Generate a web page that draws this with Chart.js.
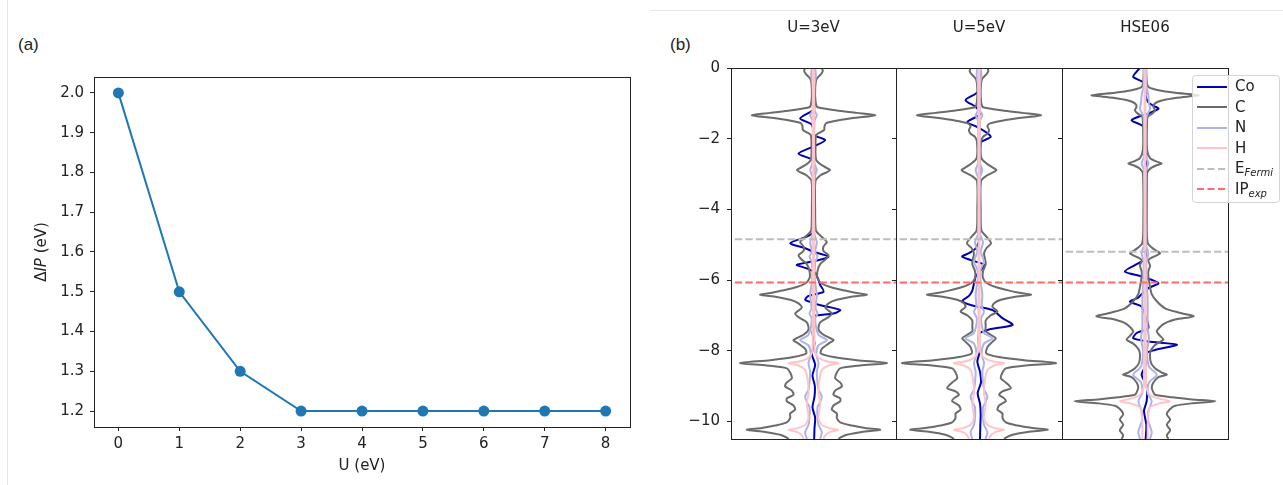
<!DOCTYPE html>
<html>
<head>
<meta charset="utf-8">
<script src="https://cdn.jsdelivr.net/npm/chart.js@4/dist/chart.umd.min.js"></script>
<style>
body { margin:0; background:#fff; }
#wrap { position:relative; width:1283px; height:485px; overflow:hidden; font-family:'DejaVu Sans'; }
canvas { position:absolute; top:0; }
.tag { position:absolute; font-family:'Liberation Sans', sans-serif; font-size:17px; color:#222; }
.rule { position:absolute; background:#e6e6e6; }
#legend { position:absolute; left:1192px; top:75px; width:88px; height:128px; box-sizing:border-box;
  border:1px solid #d5d5d5; border-radius:4px; background:rgba(255,255,255,0.8); padding-top:0px; z-index:5; }
.row { height:20.6px; line-height:20.6px; font-size:15px; color:#222; white-space:nowrap; }
.row svg { vertical-align:middle; margin-left:4px; margin-right:8px; }
.row sub { font-size:10px; font-style:italic; vertical-align:-3px; line-height:0; }
</style>
</head>
<body>
<div id="wrap">
  <div class="rule" style="left:7px;top:0;width:1px;height:485px"></div>
  <div class="rule" style="left:650px;top:10px;width:633px;height:1px"></div>
  <div class="tag" style="left:18px;top:35px">(a)</div>
  <div class="tag" style="left:670px;top:35px">(b)</div>
  <canvas id="c0" width="650" height="485" style="left:0"></canvas>
  <canvas id="p0" height="485"></canvas>
  <canvas id="p1" height="485"></canvas>
  <canvas id="p2" height="485"></canvas>
  <div id="legend">
    <div class="row"><svg width="30" height="4"><line x1="0" y1="2" x2="30" y2="2" stroke="#0000b4" stroke-width="2"/></svg>Co</div>
    <div class="row"><svg width="30" height="4"><line x1="0" y1="2" x2="30" y2="2" stroke="#6b6b6b" stroke-width="2"/></svg>C</div>
    <div class="row"><svg width="30" height="4"><line x1="0" y1="2" x2="30" y2="2" stroke="#aab4ea" stroke-width="2"/></svg>N</div>
    <div class="row"><svg width="30" height="4"><line x1="0" y1="2" x2="30" y2="2" stroke="#ffc4c8" stroke-width="2"/></svg>H</div>
    <div class="row"><svg width="30" height="4"><line x1="0" y1="2" x2="30" y2="2" stroke="#bdbdbd" stroke-width="2" stroke-dasharray="7 3.5"/></svg>E<sub>Fermi</sub></div>
    <div class="row"><svg width="30" height="4"><line x1="0" y1="2" x2="30" y2="2" stroke="#ff6b6b" stroke-width="2" stroke-dasharray="7 3.5"/></svg>IP<sub>exp</sub></div>
  </div>
</div>
<script>
// (a) delta IP vs U
var U = [0, 1, 2, 3, 4, 5, 6, 7, 8];
var dIP = [2.0, 1.5, 1.3, 1.2, 1.2, 1.2, 1.2, 1.2, 1.2];
var uTicks = [0, 1, 2, 3, 4, 5, 6, 7, 8];
var ipTicks = [1.2, 1.3, 1.4, 1.5, 1.6, 1.7, 1.8, 1.9, 2.0];

// (b) DOS panels
var panelTitles = ['U=3eV', 'U=5eV', 'HSE06'];
var eTicks = [0, -2, -4, -6, -8, -10];
var eFermi = [-4.85, -4.85, -5.2];
var ipExp = -6.07;

// U=3eV
var u3_C_E = [0, -0.08, -0.18, -0.3, -0.45, -0.8, -1.05, -1.12, -1.2, -1.27,
  -1.34, -1.41, -1.48, -1.56, -1.65, -1.75, -1.82, -1.9, -2.2, -2.6,
  -2.75, -2.84, -2.89, -2.94, -3.03, -3.2, -4.0, -4.6, -4.72, -4.84,
  -4.93, -5.05, -5.18, -5.3, -5.4, -5.55, -5.75, -5.95, -6.1, -6.2,
  -6.3, -6.36, -6.42, -6.48, -6.56, -6.66, -6.78, -6.95, -7.05, -7.2,
  -7.4, -7.55, -7.7, -7.8, -7.95, -8.08, -8.18, -8.27, -8.35, -8.42,
  -8.5, -8.62, -8.78, -8.9, -9.01, -9.13, -9.25, -9.35, -9.43, -9.55,
  -9.67, -9.78, -9.9, -10.03, -10.12, -10.19, -10.24, -10.3, -10.38, -10.46,
  -10.5];
var u3_C_w = [2.5, 2.8, 2.2, 1.0, 0.6, 0.5, 0.8, 1.5, 7, 13,
  18.5, 12.5, 7.5, 3.8, 3.3, 3.2, 2, 0.8, 0.6, 0.8,
  2.5, 4.2, 5, 4.2, 2.2, 0.6, 0.5, 0.7, 1.8, 3.2,
  4, 3, 3, 4.5, 3.8, 2, 1.2, 1.2, 2.5, 5,
  9.5, 12.5, 16, 11, 7, 4.5, 3.5, 5.5, 4.5, 2,
  1.5, 3, 6, 4.5, 2.5, 2.2, 6, 13, 22, 14,
  8, 7, 6.5, 8, 8.5, 6.5, 6, 8, 8, 6,
  5.5, 7, 7, 8, 11.5, 15.5, 20, 14.5, 10, 8,
  7.5];
var u3_N_E = [0, -0.2, -0.5, -1.2, -1.34, -1.5, -2.7, -2.89, -3.1, -4.7,
  -4.93, -5.2, -5.34, -5.5, -6.0, -6.42, -6.8, -6.95, -7.1, -7.55,
  -7.7, -7.85, -8.1, -8.35, -8.6, -8.9, -9.1, -9.3, -9.45, -9.6,
  -9.9, -10.1, -10.3, -10.5];
var u3_N_w = [0.5, 0.7, 0.3, 0.3, 1.0, 0.3, 0.3, 1.0, 0.3, 0.3,
  1.0, 0.5, 1.2, 0.5, 0.4, 1.0, 0.6, 1.2, 0.5, 1.5,
  4.0, 1.5, 0.8, 1.5, 1.0, 1.2, 1.5, 2.5, 2.0, 1.2,
  1.2, 1.5, 2.5, 2.0];
var u3_H_E = [0, -8.0, -8.2, -8.3, -8.35, -8.42, -8.55, -8.8, -9.2, -9.5, -9.9, -10.1, -10.2, -10.24, -10.3, -10.4, -10.5];
var u3_H_w = [0.15, 0.3, 1.5, 4, 7.5, 4.5, 2.5, 1.8, 1.5, 2.0, 1.5, 2.5, 5, 7.5, 5, 3.5, 3];
var u3_Co_E = [0, -1.15, -1.22, -1.43, -1.6, -1.9, -2.04, -2.2, -2.42, -2.6,
  -2.8, -4.6, -4.75, -4.96, -5.1, -5.2, -5.34, -5.45, -5.57, -5.67,
  -5.8, -6.0, -6.14, -6.33, -6.45, -6.56, -6.62, -6.7, -6.85, -6.95,
  -7.03, -7.2, -7.5, -7.8, -8.1, -8.4, -8.7, -9.0, -9.3, -9.6,
  -9.9, -10.2, -10.5];
var u3_Co_x = [0.2, 0.2, -0.5, -4, -0.5, 0.3, 3.5, 0.5, -4.5, -0.3,
  0.2, 0.2, -1.5, -7, -2.5, 0, 4.5, 1, -5, -2,
  0.5, 1.5, 2, 3, -1.5, -2.5, -1, 1.5, 8, 6,
  0, 0.3, -0.3, 0.3, -0.5, 0.5, -0.3, 0.4, 0.3, -0.3,
  0.5, 0.3, 0.2];

// U=5eV
var u5_C_E = [0, -0.08, -0.18, -0.3, -0.45, -0.8, -1.05, -1.12, -1.2, -1.27,
  -1.34, -1.41, -1.48, -1.56, -1.64, -1.76, -1.86, -1.95, -2.1, -2.55,
  -2.72, -2.84, -2.89, -2.94, -3.05, -3.2, -4.0, -4.6, -4.75, -4.96,
  -5.1, -5.25, -5.4, -5.55, -5.75, -5.95, -6.1, -6.2, -6.3, -6.36,
  -6.42, -6.48, -6.56, -6.66, -6.76, -6.89, -7.0, -7.15, -7.3, -7.45,
  -7.55, -7.65, -7.75, -7.9, -8.08, -8.18, -8.27, -8.35, -8.42, -8.5,
  -8.62, -8.78, -8.9, -9.06, -9.15, -9.25, -9.35, -9.43, -9.55, -9.67,
  -9.78, -9.9, -10.03, -10.12, -10.19, -10.24, -10.3, -10.38, -10.46, -10.5];
var u5_C_w = [2.5, 2.8, 2.2, 1.0, 0.6, 0.5, 0.8, 1.5, 7, 13,
  18.5, 12.5, 7.5, 3.5, 2.5, 3, 2.5, 1.2, 0.6, 0.7,
  2.5, 4.5, 5.2, 4.5, 2.2, 0.6, 0.5, 0.7, 2, 3.6,
  2.2, 1.5, 1.8, 2, 1.2, 1.2, 2.5, 5, 9, 12,
  15.5, 10.5, 6.5, 4.5, 4, 5.5, 3.5, 2, 2, 2,
  3.5, 5, 4, 2.5, 2.2, 6, 13.5, 23, 14, 8,
  7, 6.5, 8, 9.5, 7, 6, 7.5, 8, 6, 5.5,
  7, 7, 8, 11.5, 16, 20.5, 14.5, 10, 8, 7.5];
var u5_N_E = [0, -0.2, -0.5, -1.2, -1.34, -1.5, -2.7, -2.89, -3.1, -4.7,
  -4.93, -5.2, -5.48, -5.7, -6.0, -6.42, -6.75, -6.9, -7.1, -7.5,
  -7.65, -7.8, -8.1, -8.35, -8.6, -8.9, -9.1, -9.3, -9.45, -9.6,
  -9.9, -10.1, -10.3, -10.5];
var u5_N_w = [0.5, 0.7, 0.3, 0.3, 1.0, 0.3, 0.3, 1.0, 0.3, 0.3,
  1.2, 0.5, 1.5, 0.5, 0.4, 1.0, 0.8, 1.5, 0.6, 1.5,
  4.0, 1.5, 0.8, 1.5, 1.0, 1.2, 1.5, 2.5, 2.0, 1.2,
  1.2, 1.5, 2.5, 2.0];
var u5_H_E = [0, -8.0, -8.2, -8.3, -8.35, -8.42, -8.55, -8.8, -9.2, -9.5, -9.9, -10.1, -10.2, -10.24, -10.3, -10.4, -10.5];
var u5_H_w = [0.15, 0.3, 1.5, 4, 7.5, 4.5, 2.5, 1.8, 1.5, 2.0, 1.5, 2.5, 5, 7.5, 5, 3.5, 3];
var u5_Co_E = [0, -0.6, -0.73, -0.91, -1.1, -1.25, -1.34, -1.53, -1.67, -1.81,
  -1.95, -2.1, -2.3, -4.8, -5.1, -5.24, -5.34, -5.48, -5.57, -5.75,
  -5.9, -6.1, -6.3, -6.45, -6.6, -6.72, -6.85, -7.08, -7.27, -7.4,
  -7.5, -7.7, -8.0, -8.3, -8.6, -8.9, -9.2, -9.5, -9.8, -10.1, -10.5];
var u5_Co_x = [0.2, 0.2, -1, -4, -1, 0.3, 0, -3.5, -0.5, 2,
  3.5, 0.5, 0.1, 0.2, -1, -3, -5, -1, 1.5, 0.3,
  -1, -1.5, -2, -3, -5, -2, 4, 7, 10, 3,
  0.3, -0.3, 0.3, -0.5, 0.3, 0.6, -0.4, 0.3, 0.5, 0.4, 0.3];

// HSE06
var hse_C_E = [0, -0.2, -0.45, -0.55, -0.63, -0.7, -0.77, -0.84, -0.92, -1.0,
  -1.1, -1.2, -1.3, -1.38, -1.55, -2.3, -2.55, -2.65, -2.7, -2.75,
  -2.85, -3.0, -4.5, -4.95, -5.08, -5.18, -5.24, -5.3, -5.43, -5.6,
  -5.75, -5.9, -6.2, -6.4, -6.6, -6.8, -6.92, -7.03, -7.12, -7.25,
  -7.45, -7.58, -7.69, -7.8, -7.95, -8.1, -8.35, -8.5, -8.62, -8.68,
  -8.75, -8.9, -9.05, -9.18, -9.25, -9.32, -9.38, -9.43, -9.49, -9.56,
  -9.65, -9.8, -9.95, -10.1, -10.25, -10.4, -10.5];
var hse_C_w = [0.3, 0.4, 0.6, 1.2, 4, 9, 16, 9.5, 5, 3,
  2.5, 3, 2, 0.8, 0.6, 0.6, 1.5, 3.5, 5, 3.5,
  1.5, 0.6, 0.5, 0.8, 2, 3.5, 4.5, 3.5, 1, 1.5,
  1, 1, 1.5, 2, 3.5, 6, 10, 14.5, 9, 5.5,
  3.5, 4.5, 5.5, 3.5, 2, 1.5, 1.8, 3, 5, 6.5,
  4, 2.5, 2, 2.5, 3, 8, 14, 21, 14, 9,
  7.5, 6.5, 7.5, 6.5, 7.5, 6.5, 7];
var hse_N_E = [0, -0.5, -0.77, -1.0, -1.15, -1.4, -2.5, -2.7, -2.9, -5.0,
  -5.24, -5.5, -6.2, -6.6, -7.0, -7.4, -7.65, -8.0, -8.45, -8.68,
  -8.9, -9.2, -9.43, -9.7, -10.0, -10.3, -10.5];
var hse_N_w = [0.4, 0.4, 1.0, 1.2, 1.5, 0.4, 0.3, 1.0, 0.3, 0.3,
  1.0, 0.4, 0.6, 0.8, 0.8, 0.8, 1.2, 0.6, 1.2, 3.5,
  1.2, 0.8, 2.0, 1.0, 1.0, 2.0, 1.5];
var hse_H_E = [0, -9.0, -9.25, -9.35, -9.43, -9.5, -9.6, -9.8, -10.1, -10.5];
var hse_H_w = [0.15, 0.3, 1.5, 4, 7.5, 4, 1.5, 1.0, 0.8, 0.8];
var hse_Co_E = [0, -0.1, -0.25, -0.44, -0.8, -0.97, -1.07, -1.15, -1.29, -1.38,
  -1.48, -1.62, -1.75, -5.35, -5.45, -5.53, -5.76, -5.9, -6.09, -6.23,
  -6.4, -6.5, -6.61, -6.75, -6.99, -7.36, -7.5, -7.65, -7.74, -7.83,
  -7.98, -8.07, -8.4, -8.68, -9.0, -9.43, -9.7, -10.1, -10.5];
var hse_Co_x = [-1.5, -2.5, -3.5, 0, 0.2, 1, 2.5, 4, 1, -2,
  -4, -1, 0.2, 0.2, -0.5, -2, -6, -1, 4, 1,
  -1, -2, -4.5, -1, 0, 1, -2.5, -3.5, 1, 9.5,
  3, 0.5, 0.3, -1, 0.5, 0.5, -0.3, 0.4, 0.2];

Chart.defaults.font.family = 'DejaVu Sans';
Chart.defaults.font.size = 15;
Chart.defaults.color = '#222';

var frame = {
  id: 'frame',
  afterDatasetsDraw: function(chart) {
    var a = chart.chartArea, ctx = chart.ctx;
    ctx.save();
    ctx.strokeStyle = '#222';
    ctx.lineWidth = 1;
    ctx.strokeRect(Math.round(a.left) + 0.5, Math.round(a.top) + 0.5, Math.round(a.right - a.left), Math.round(a.bottom - a.top));
    ctx.restore();
  }
};

var ylab = {
  id: 'ylab',
  afterDraw: function(chart) {
    var a = chart.chartArea, ctx = chart.ctx;
    var parts = [['\u0394', '15px DejaVu Sans'], ['IP', 'italic 15px DejaVu Sans'], [' (eV)', '15px DejaVu Sans']];
    var total = 0;
    parts.forEach(function(p) { ctx.font = p[1]; total += ctx.measureText(p[0]).width; });
    ctx.save();
    ctx.translate(42, (a.top + a.bottom) / 2);
    ctx.rotate(-Math.PI / 2);
    ctx.fillStyle = '#222';
    ctx.textBaseline = 'middle';
    var x = -total / 2;
    parts.forEach(function(p) { ctx.font = p[1]; ctx.fillText(p[0], x, 0); x += ctx.measureText(p[0]).width; });
    ctx.restore();
  }
};

new Chart(document.getElementById('c0'), {
  type: 'scatter',
  data: {
    datasets: [{
      data: U.map(function(u, i) { return {x: u, y: dIP[i]}; }),
      showLine: true,
      borderColor: '#1f77b4',
      backgroundColor: '#1f77b4',
      borderWidth: 2,
      pointRadius: 5.5,
      pointBorderWidth: 0
    }]
  },
  options: {
    responsive: false,
    animation: false,
    events: [],
    layout: {padding: {left: 0, top: 77, right: 20, bottom: 0}},
    plugins: {legend: {display: false}, tooltip: {enabled: false}},
    scales: {
      x: {
        type: 'linear', min: -0.4, max: 8.4,
        afterBuildTicks: function(s) { s.ticks = uTicks.map(function(v) { return {value: v}; }); },
        afterFit: function(s) { s.height = 58; },
        ticks: {padding: 4, autoSkip: false, maxRotation: 0, callback: function(v) { return String(v); }},
        grid: {drawOnChartArea: false, tickLength: 4, color: '#222'},
        border: {display: false},
        title: {display: true, text: 'U (eV)', color: '#222', font: {size: 15}, padding: {top: 0, bottom: 10}}
      },
      y: {
        type: 'linear', min: 1.16, max: 2.04,
        afterBuildTicks: function(s) { s.ticks = ipTicks.map(function(v) { return {value: v}; }); },
        afterFit: function(s) { s.width = 94; },
        ticks: {padding: 6, autoSkip: false, callback: function(v) { return v.toFixed(1); }},
        grid: {drawOnChartArea: false, tickLength: 4, color: '#222'},
        border: {display: false}
      }
    }
  },
  plugins: [frame, ylab]
});

function mirror(E, w, color, lw) {
  var right = E.map(function(e, i) { return {x: w[i], y: e}; });
  var left = E.map(function(e, i) { return {x: -w[i], y: e}; });
  return [right, left].map(function(d) {
    return {data: d, showLine: true, borderColor: color, borderWidth: lw, pointRadius: 0, tension: 0.25};
  });
}

function hline(y, color) {
  return {data: [{x: -30, y: y}, {x: 30, y: y}], showLine: true, borderColor: color, borderWidth: 2,
    borderDash: [7.4, 3.2], pointRadius: 0};
}

var panels = [
  {Co: [u3_Co_E, u3_Co_x], C: [u3_C_E, u3_C_w], N: [u3_N_E, u3_N_w], H: [u3_H_E, u3_H_w]},
  {Co: [u5_Co_E, u5_Co_x], C: [u5_C_E, u5_C_w], N: [u5_N_E, u5_N_w], H: [u5_H_E, u5_H_w]},
  {Co: [hse_Co_E, hse_Co_x], C: [hse_C_E, hse_C_w], N: [hse_N_E, hse_N_w], H: [hse_H_E, hse_H_w]}
];
var panelL = [731, 896, 1062];
var panelR = [896, 1062, 1228];

panels.forEach(function(p, k) {
  var cv = document.getElementById('p' + k);
  cv.width = panelR[k] - panelL[k] + 87;
  cv.style.left = (panelL[k] - 81) + 'px';

  var ds = [hline(ipExp, '#ff6b6b'), hline(eFermi[k], '#bdbdbd')];
  ds = ds.concat(mirror(p.H[0], p.H[1], '#ffc4c8', 2));
  ds = ds.concat(mirror(p.N[0], p.N[1], '#aab4ea', 2));
  ds = ds.concat(mirror(p.C[0], p.C[1], '#6b6b6b', 2));
  ds.push({
    data: p.Co[0].map(function(e, i) { return {x: p.Co[1][i], y: e}; }),
    showLine: true, borderColor: '#0000b4', borderWidth: 2, pointRadius: 0, tension: 0.25
  });

  var title = {
    id: 'ptitle',
    afterDraw: function(chart) {
      var a = chart.chartArea, ctx = chart.ctx;
      ctx.save();
      ctx.font = '15px DejaVu Sans';
      ctx.fillStyle = '#222';
      ctx.textAlign = 'center';
      ctx.textBaseline = 'middle';
      ctx.fillText(panelTitles[k], (a.left + a.right) / 2, 28);
      ctx.restore();
    }
  };

  new Chart(cv, {
    type: 'scatter',
    data: {datasets: ds},
    options: {
      responsive: false,
      animation: false,
      events: [],
      layout: {padding: {left: 0, top: 68, right: 6, bottom: 46}},
      plugins: {legend: {display: false}, tooltip: {enabled: false}},
      scales: {
        x: {type: 'linear', min: -24.75, max: 24.75, display: false},
        y: {
          type: 'linear', min: -10.5, max: 0,
          afterBuildTicks: function(s) { s.ticks = eTicks.map(function(v) { return {value: v}; }); },
          afterFit: function(s) { s.width = 81; },
          ticks: {display: k === 0, padding: 7, autoSkip: false,
            callback: function(v) { return v === 0 ? '0' : '\u2212' + Math.abs(v); }},
          grid: {drawOnChartArea: false, tickLength: 4, color: '#222'},
          border: {display: false}
        }
      }
    },
    plugins: [frame, title]
  });
});
</script>
</body>
</html>
